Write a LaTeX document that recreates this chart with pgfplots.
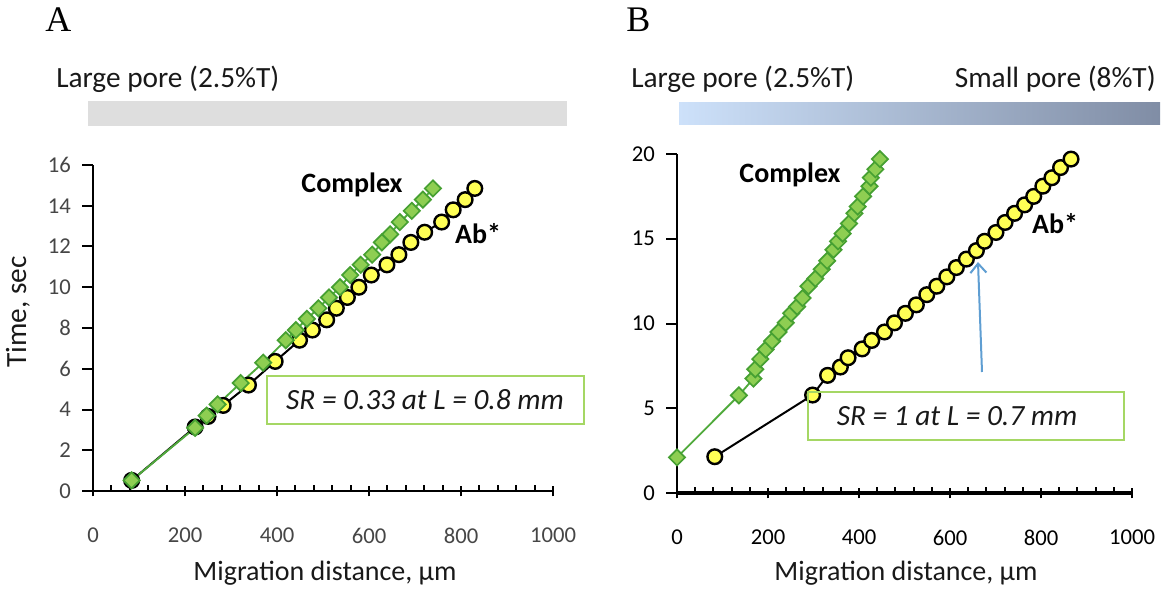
\documentclass[border=0pt]{standalone}
\usepackage{fontspec}
\setmainfont{Carlito}
\newfontfamily\seriffont{Liberation Serif}
\usepackage{pgfplots}
\pgfplotsset{compat=1.18}
\usetikzlibrary{arrows.meta}
\definecolor{yel}{RGB}{255,255,85}
\definecolor{gfill}{RGB}{142,206,82}
\definecolor{gdraw}{RGB}{70,160,50}
\definecolor{gline}{RGB}{80,170,60}
\definecolor{boxg}{RGB}{165,215,100}
\definecolor{barg}{RGB}{222,222,222}
\definecolor{gradL}{RGB}{205,225,250}
\definecolor{gradR}{RGB}{128,141,165}
\definecolor{arrowb}{RGB}{95,158,210}
\definecolor{tickgray}{RGB}{70,70,70}
\definecolor{txt}{RGB}{25,25,25}
\begin{document}
\begin{tikzpicture}
\path[use as bounding box] (0,0) rectangle (873.75pt,442.5pt);

% ---------------- Panel A ----------------
\begin{axis}[
  at={(69.75pt,74.25pt)}, anchor=south west,
  scale only axis, width=345pt, height=244.5pt,
  xmin=0, xmax=1000, ymin=0, ymax=16,
  axis x line=bottom, axis y line=left,
  axis line style={-, line width=1.5pt, black},
  xtick={0,200,...,1000}, ytick={0,2,...,16},
  minor x tick num=4,
  tick align=outside, major tick length=8pt, minor tick length=4.5pt,
  tick style={line width=1.5pt, black},
  major x tick style={yshift=4pt},
  minor x tick style={yshift=4.5pt},
  ticklabel style={font=\fontsize{17}{20}\selectfont, text=tickgray},
  xticklabel style={yshift=-16pt},
  yticklabel style={xshift=-5pt},
  /pgf/number format/assume math mode=true,
  /pgf/number format/1000 sep={},
  clip=false,
]
\addplot[black, line width=1.5pt, mark=*, mark size=5.5pt,
  mark options={fill=yel, draw=black, line width=1.8pt}] coordinates {
(84,0.52) (222,3.14) (250,3.66) (283,4.2) (338,5.2) (396,6.36) (449,7.4)
(477,7.9) (508,8.4) (529,8.97) (553,9.5) (578,10.0) (605,10.6) (639,11.1)
(665,11.6) (691,12.2) (721,12.7) (758,13.2) (783,13.8) (809,14.3) (830,14.85)
};
\addplot[gline, line width=1.4pt, mark=square*, mark size=4.3pt,
  mark options={rotate=45, fill=gfill, draw=gdraw, line width=1.3pt}] coordinates {
(84,0.52) (222,3.1) (247,3.7) (271,4.25) (321,5.3) (370,6.3) (419,7.4)
(441,7.9) (465,8.45) (490,8.97) (513,9.5) (537,10.0) (559,10.6) (582,11.1)
(607,11.6) (628,12.2) (646,12.6) (667,13.2) (693,13.75) (717,14.3) (739,14.85)
};
\end{axis}

% ---------------- Panel B ----------------
\begin{axis}[
  at={(507.75pt,72.75pt)}, anchor=south west,
  scale only axis, width=341.25pt, height=254.25pt,
  xmin=0, xmax=1000, ymin=0, ymax=20,
  axis x line=bottom, axis y line=left,
  axis line style={-, black},
  x axis line style={line width=3.2pt},
  y axis line style={line width=1.5pt},
  xtick={0,200,...,1000}, ytick={0,5,...,20},
  minor x tick num=4,
  tick align=outside, major tick length=8pt, minor tick length=4.5pt,
  tick style={line width=1.5pt, black},
  major x tick style={yshift=4pt},
  minor x tick style={yshift=4.5pt},
  ticklabel style={font=\fontsize{17}{20}\selectfont, text=black},
  xticklabel style={yshift=-16pt},
  yticklabel style={xshift=-5pt},
  /pgf/number format/assume math mode=true,
  /pgf/number format/1000 sep={},
  clip=false,
]
\addplot[black, line width=1.5pt, mark=*, mark size=5.5pt,
  mark options={fill=yel, draw=black, line width=1.8pt}] coordinates {
(83,2.14) (298,5.78) (331,6.94) (359,7.43) (376,7.98) (407,8.5) (428,9.0)
(456,9.5) (478,10.04) (502,10.6) (526,11.1) (549,11.7) (571,12.2) (593,12.75)
(614,13.3) (636,13.8) (658,14.3) (676,14.85) (701,15.37) (721,15.96) (742,16.5)
(764,17.0) (784,17.5) (804,18.1) (824,18.6) (843,19.2) (866,19.7)
};
\addplot[gline, line width=1.4pt, mark=square*, mark size=4.3pt,
  mark options={rotate=45, fill=gfill, draw=gdraw, line width=1.3pt}] coordinates {
(0,2.1) (136,5.76) (168,6.75) (172,7.3) (183,7.9) (195,8.47) (209,8.96)
(223,9.5) (239,10.04) (251,10.6) (264,11.0) (276,11.5) (289,12.2) (304,12.65)
(318,13.2) (330,13.7) (344,14.35) (354,14.85) (364,15.3) (378,15.9) (390,16.5)
(397,16.9) (409,17.5) (423,18.1) (426,18.6) (436,19.1) (446,19.7)
};
\end{axis}

% ---------------- annotations (pixel coordinates, origin top-left) ----------------
\begin{scope}[x=0.75pt, y=-0.75pt, yshift=442.5pt]
  \node[anchor=base west, inner sep=0, font=\seriffont\fontsize{27}{30}\selectfont] at (45,32) {A};
  \node[anchor=base west, inner sep=0, font=\seriffont\fontsize{27}{30}\selectfont] at (626,32) {B};
  \node[anchor=base west, inner sep=0, text=txt, font=\fontsize{22}{26}\selectfont] at (56,88) {Large pore (2.5\%T)};
  \node[anchor=base west, inner sep=0, text=txt, font=\fontsize{22}{26}\selectfont] at (631,88) {Large pore (2.5\%T)};
  \node[anchor=base east, inner sep=0, text=txt, font=\fontsize{22}{26}\selectfont] at (1156,88) {Small pore (8\%T)};
  \fill[barg] (88,101) rectangle (567,126);
  \shade[left color=gradL, right color=gradR] (679,103) rectangle (1160,125);

  \node[anchor=base, inner sep=0, font=\bfseries\fontsize{21}{25}\selectfont] at (352,193) {Complex};
  \node[anchor=base, inner sep=0, font=\bfseries\fontsize{21}{25}\selectfont] at (478,244) {Ab*};
  \node[anchor=base, inner sep=0, font=\bfseries\fontsize{21}{25}\selectfont] at (790,183) {Complex};
  \node[anchor=base, inner sep=0, font=\bfseries\fontsize{21}{25}\selectfont] at (1055,234) {Ab*};

  \draw[boxg, line width=2.2pt, fill=white] (267,376) rectangle (584,424);
  \node[text=txt, font=\itshape\fontsize{22}{26}\selectfont] at (425,400) {SR = 0.33 at L = 0.8 mm};
  \draw[boxg, line width=2.2pt] (808,392) rectangle (1124,440);
  \node[text=txt, font=\itshape\fontsize{22}{26}\selectfont] at (957,416) {SR = 1 at L = 0.7 mm};

  \draw[arrowb, line width=1.5pt, -{Straight Barb[length=7pt,width=12pt]}] (982,372) -- (978,262);

  \node[rotate=90, text=txt, font=\fontsize{22}{26}\selectfont] at (18,312) {Time, sec};
  \node[anchor=base, inner sep=0, text=txt, font=\fontsize{21}{25}\selectfont] at (325,580) {Migration distance, µm};
  \node[anchor=base, inner sep=0, text=txt, font=\fontsize{21}{25}\selectfont] at (906,580) {Migration distance, µm};
\end{scope}
\end{tikzpicture}
\end{document}
